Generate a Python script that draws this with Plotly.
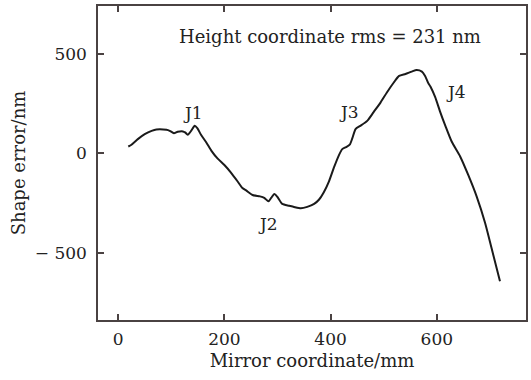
import plotly.graph_objects as go

x_mm = [19, 25, 37, 50, 63, 72, 91, 97, 105, 112, 122, 126, 131, 138, 144, 149, 156, 166, 176, 187,
        200, 212, 225, 234, 241, 253, 267, 275, 283, 288, 294, 300, 309, 322, 331, 344, 356, 369,
        378, 387, 397, 406, 416, 422, 429, 436, 441, 447, 456, 469, 481, 494, 506, 519, 529, 541,
        553, 562, 572, 578, 584, 588, 597, 606, 616, 628, 644, 659, 675, 691, 703, 719]
shape_nm = [35, 44, 72, 97, 114, 121, 119, 114, 102, 109, 111, 106, 94, 116, 139, 127, 94, 55, 12, -25,
            -58, -95, -141, -174, -186, -209, -216, -223, -241, -224, -204, -219, -254, -263, -269, -276, -269, -254,
            -233, -196, -140, -73, -7, 22, 32, 44, 77, 123, 139, 164, 208, 256, 307, 357, 390, 400,
            412, 420, 412, 390, 354, 337, 283, 212, 140, 60, -15, -107, -216, -350, -475, -643]

labels = ["J1", "J2", "J3", "J4"]
label_x = [140, 283, 435, 636]
label_y = [203, -353, 208, 308]

rms_text = "Height coordinate rms = 231 nm"

x_major_step = 200
y_major_step = 500
y_label_alias = {"\u2212500": "\u2212 500"}

tick_font = dict(family="DejaVu Serif", size=17, color="#222")
title_font = dict(family="DejaVu Serif", size=18, color="#222")
ann_font = dict(family="DejaVu Serif", size=17, color="#222")
axis_color = "#4a4242"

fig = go.Figure()
fig.add_trace(go.Scatter(x=x_mm, y=shape_nm, mode="lines",
                         line=dict(color="#1a1a1a", width=2, shape="spline", smoothing=0.6),
                         showlegend=False))

for t, lx, ly in zip(labels, label_x, label_y):
    fig.add_annotation(x=lx, y=ly, text=t, showarrow=False, font=ann_font)
fig.add_annotation(x=399, y=591, text=rms_text, showarrow=False,
                   font=dict(family="DejaVu Serif", size=18, color="#222"))

fig.update_xaxes(range=[-38, 768], tickmode="linear", tick0=0, dtick=x_major_step,
                 ticks="inside", ticklen=6, tickwidth=1.5, tickcolor=axis_color,
                 showline=True, linecolor=axis_color, linewidth=1.5, mirror="allticks",
                 showgrid=False, zeroline=False, tickfont=tick_font, ticklabelstandoff=3,
                 title=dict(text="Mirror coordinate/mm", font=title_font, standoff=6))
fig.update_yaxes(range=[-838, 742], tickmode="linear", tick0=0, dtick=y_major_step,
                 labelalias=y_label_alias,
                 ticks="inside", ticklen=6, tickwidth=1.5, tickcolor=axis_color,
                 showline=True, linecolor=axis_color, linewidth=1.5, mirror="allticks",
                 showgrid=False, zeroline=False, tickfont=tick_font, ticklabelstandoff=6,
                 title=dict(text="Shape error/nm", font=title_font, standoff=4))

fig.update_layout(width=531, height=380, margin=dict(l=98, r=3, t=6, b=60),
                  plot_bgcolor="white", paper_bgcolor="white")

fig.write_html("out.html")
